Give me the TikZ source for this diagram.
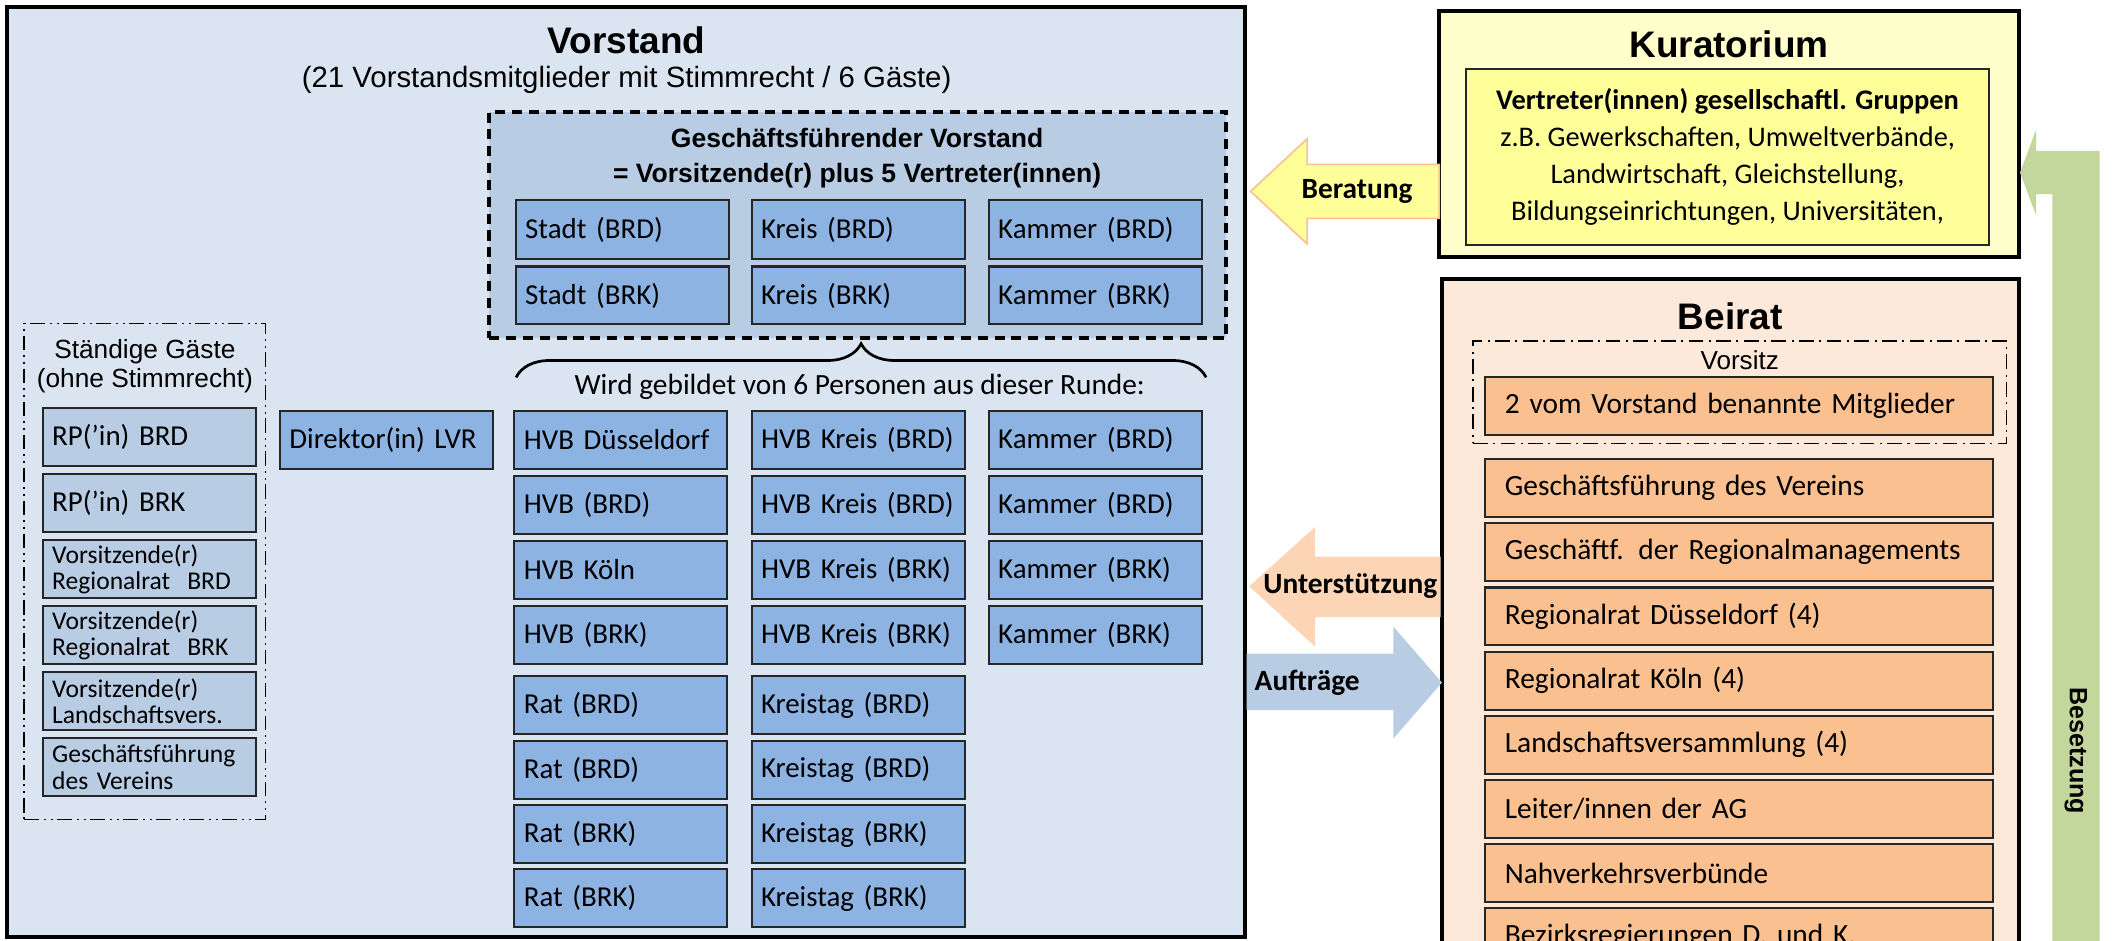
\documentclass[tikz,border=0pt]{standalone}
\usepackage{fontspec}
\setmainfont{Carlito}
\newfontfamily\arialfont{Liberation Sans}
\usetikzlibrary{positioning, decorations.pathreplacing}
\definecolor{vorbg}{HTML}{DBE5F1}
\definecolor{gfvbg}{HTML}{B8CCE4}
\definecolor{boxblue}{HTML}{8DB3E2}
\definecolor{guestblue}{HTML}{B8CCE4}
\definecolor{kurbg}{HTML}{FFFFCC}
\definecolor{kurinner}{HTML}{FFFF99}
\definecolor{beiratbg}{HTML}{FDE9D9}
\definecolor{beiratbox}{HTML}{FAC090}
\definecolor{arrpeach}{HTML}{FBD5B5}
\definecolor{arrgreen}{HTML}{C3D69B}

\begin{document}
\begin{tikzpicture}[x=0.1mm, y=0.1mm,
        frame/.style={draw=black, line width=0.3mm},
        gbox/.style={draw=black!85, line width=0.15mm, fill=boxblue, minimum height=4.3mm, text width=14.4mm,
            inner xsep=0.7mm, inner ysep=0mm, align=left, font=\fontsize{6.1}{7}\selectfont},
        sbox/.style={gbox, fill=guestblue},
        twoline/.style={font=\fontsize{5.4}{4.4}\selectfont},
        bbox/.style={gbox, fill=beiratbox, text width=34.7mm, inner xsep=1.5mm, font=\fontsize{6.2}{7}\selectfont},
        headtxt/.style={font=\arialfont\bfseries\fontsize{7.8}{9}\selectfont},
        lbl/.style={font=\bfseries\fontsize{6.2}{7}\selectfont}]
    \path[use as bounding box] (0,0) rectangle (1568,-697.6);
    \clip (0,0) rectangle (1568,-697.6);

    \node[frame, fill=vorbg, minimum width=91.9mm, minimum height=69mm] (vor) at (464.5,-350) {};
    \node[headtxt] (vt) at (465,-30) {Vorstand};
    \node[font=\arialfont\fontsize{6.2}{7}\selectfont] (vs) at (465,-59) {(21 Vorstandsmitglieder mit Stimmrecht / 6 Gäste)};

    \node[draw=black, line width=0.3mm, dash pattern=on 0.75mm off 0.5mm, fill=gfvbg,
        minimum width=54.7mm, minimum height=16.8mm] (gfv) at (636.5,-167) {};
    \node[align=center, font=\arialfont\bfseries\fontsize{5.6}{7.4}\selectfont] (gt) at (636,-117)
        {Geschäftsführender Vorstand\\= Vorsitzende(r) plus 5 Vertreter(innen)};
    \node[gbox, anchor=north west, minimum height=4.35mm] (s1) at (382,-148) {Stadt (BRD)};
    \node[gbox, below=0.4mm of s1] (s2) {Stadt (BRK)};
    \node[gbox, right=1.55mm of s1, minimum height=4.35mm] (k1) {Kreis (BRD)};
    \node[gbox, below=0.4mm of k1] (k2) {Kreis (BRK)};
    \node[gbox, right=1.65mm of k1, minimum height=4.35mm] (m1) {Kammer (BRD)};
    \node[gbox, below=0.4mm of m1] (m2) {Kammer (BRK)};

    \draw[decorate, decoration={brace, amplitude=2.5mm}, line width=0.2mm] (383,-280) -- (895,-280);
    \node[font=\fontsize{6.2}{7}\selectfont] (wg) at (638,-287) {Wird gebildet von 6 Personen aus dieser Runde:};

    \node[gbox, anchor=north west] (h1) at (381,-304) {HVB Düsseldorf};
    \node[gbox, below=0.38mm of h1] (h2) {HVB (BRD)};
    \node[gbox, below=0.38mm of h2] (h3) {HVB Köln};
    \node[gbox, below=0.38mm of h3] (h4) {HVB (BRK)};
    \node[gbox, below=0.76mm of h4] (r1) {Rat (BRD)};
    \node[gbox, below=0.33mm of r1] (r2) {Rat (BRD)};
    \node[gbox, below=0.33mm of r2] (r3) {Rat (BRK)};
    \node[gbox, below=0.33mm of r3] (r4) {Rat (BRK)};
    \node[gbox, right=1.65mm of h1] (hk1) {HVB Kreis (BRD)};
    \node[gbox, below=0.38mm of hk1] (hk2) {HVB Kreis (BRD)};
    \node[gbox, below=0.38mm of hk2] (hk3) {HVB Kreis (BRK)};
    \node[gbox, below=0.38mm of hk3] (hk4) {HVB Kreis (BRK)};
    \node[gbox, below=0.76mm of hk4] (kt1) {Kreistag (BRD)};
    \node[gbox, below=0.33mm of kt1] (kt2) {Kreistag (BRD)};
    \node[gbox, below=0.33mm of kt2] (kt3) {Kreistag (BRK)};
    \node[gbox, below=0.33mm of kt3] (kt4) {Kreistag (BRK)};
    \node[gbox, right=1.65mm of hk1] (ka1) {Kammer (BRD)};
    \node[gbox, below=0.38mm of ka1] (ka2) {Kammer (BRD)};
    \node[gbox, below=0.38mm of ka2] (ka3) {Kammer (BRK)};
    \node[gbox, below=0.38mm of ka3] (ka4) {Kammer (BRK)};

    \node[gbox, anchor=north west] (dir) at (207,-304) {Direktor(in) LVR};

    \node[draw=black, line width=0.12mm, dash pattern=on 1.1mm off 0.35mm on 0.15mm off 0.35mm on 0.15mm off 0.35mm,
        minimum width=17.9mm, minimum height=36.8mm] (sg) at (107.5,-424) {};
    \node[align=center, font=\arialfont\fontsize{5.55}{6.2}\selectfont] (sgt) at (107.5,-271.5) {Ständige Gäste\\(ohne Stimmrecht)};
    \node[sbox, anchor=north west] (g1) at (31,-302) {RP(’in) BRD};
    \node[sbox, below=0.45mm of g1] (g2) {RP(’in) BRK};
    \node[sbox, twoline, below=0.45mm of g2] (g3) {Vorsitzende(r)\\Regionalrat\ \ BRD};
    \node[sbox, twoline, below=0.45mm of g3] (g4) {Vorsitzende(r)\\Regionalrat\ \ BRK};
    \node[sbox, twoline, below=0.45mm of g4] (g5) {Vorsitzende(r)\\Landschaftsvers.};
    \node[sbox, twoline, below=0.45mm of g5] (g6) {Geschäftsführung\\des Vereins};

    \node[frame, fill=kurbg, minimum width=43mm, minimum height=18.3mm] (kur) at (1283,-99.5) {};
    \node[headtxt] (kurt) at (1283,-33) {Kuratorium};
    \node[draw=black!85, line width=0.15mm, fill=kurinner, minimum width=38.8mm, minimum height=13.1mm,
        inner sep=0mm, align=center, font=\fontsize{6}{7.8}\selectfont] (kg) at (1282,-116.5)
        {\textbf{Vertreter(innen) gesellschaftl. Gruppen}\\z.B. Gewerkschaften, Umweltverbände,\\Landwirtschaft, Gleichstellung,\\Bildungseinrichtungen, Universitäten,};

    \node[frame, fill=beiratbg, minimum width=42.8mm, minimum height=51.3mm] (bei) at (1284,-463.5) {};
    \node[headtxt] (beit) at (1284,-235) {Beirat};
    \node[draw=black, line width=0.12mm, dash pattern=on 1.1mm off 0.4mm on 0.15mm off 0.4mm,
        minimum width=39.6mm, minimum height=7.6mm] (vz) at (1291,-291) {};
    \node[font=\arialfont\fontsize{5.5}{6}\selectfont] (vzt) at (1291,-267) {Vorsitz};
    \node[bbox, anchor=north west] (b0) at (1101,-279) {2 vom Vorstand benannte Mitglieder};
    \node[bbox, anchor=north west] (b1) at (1101,-340) {Geschäftsführung des Vereins};
    \node[bbox, below=0.31mm of b1] (b2) {Geschäftf. der Regionalmanagements};
    \node[bbox, below=0.31mm of b2] (b3) {Regionalrat Düsseldorf (4)};
    \node[bbox, below=0.31mm of b3] (b4) {Regionalrat Köln (4)};
    \node[bbox, below=0.31mm of b4] (b5) {Landschaftsversammlung (4)};
    \node[bbox, below=0.31mm of b5] (b6) {Leiter/innen der AG};
    \node[bbox, below=0.31mm of b6] (b7) {Nahverkehrsverbünde};
    \node[bbox, below=0.31mm of b7] (b8) {Bezirksregierungen D. und K.};

    \draw[fill=kurinner, draw=beiratbox, line width=0.12mm] (928,-142) -- (970,-103) -- (970,-122) -- (1068,-122)
        -- (1068,-162) -- (970,-162) -- (970,-181) -- cycle;
    \node[lbl] (ber) at (1007,-142) {Beratung};
    \fill[arrpeach] (927,-435) -- (976,-391) -- (976,-413) -- (1069,-413) -- (1069,-458) -- (976,-458) -- (976,-480) -- cycle;
    \node[lbl] (unt) at (1002,-435) {Unterstützung};
    \fill[gfvbg] (925,-485) -- (1034,-485) -- (1034,-465) -- (1070,-506.5) -- (1034,-548) -- (1034,-527) -- (925,-527) -- cycle;
    \node[lbl] (auf) at (970,-507) {Aufträge};
    \fill[arrgreen] (1499,-128) -- (1511,-96) -- (1511,-112) -- (1558,-112) -- (1558,-720) -- (1523,-720)
        -- (1523,-144) -- (1511,-144) -- (1511,-160) -- cycle;
    \node[rotate=-90, font=\arialfont\bfseries\fontsize{5.3}{6}\selectfont] (bes) at (1540.5,-557) {Besetzung};
\end{tikzpicture}
\end{document}
